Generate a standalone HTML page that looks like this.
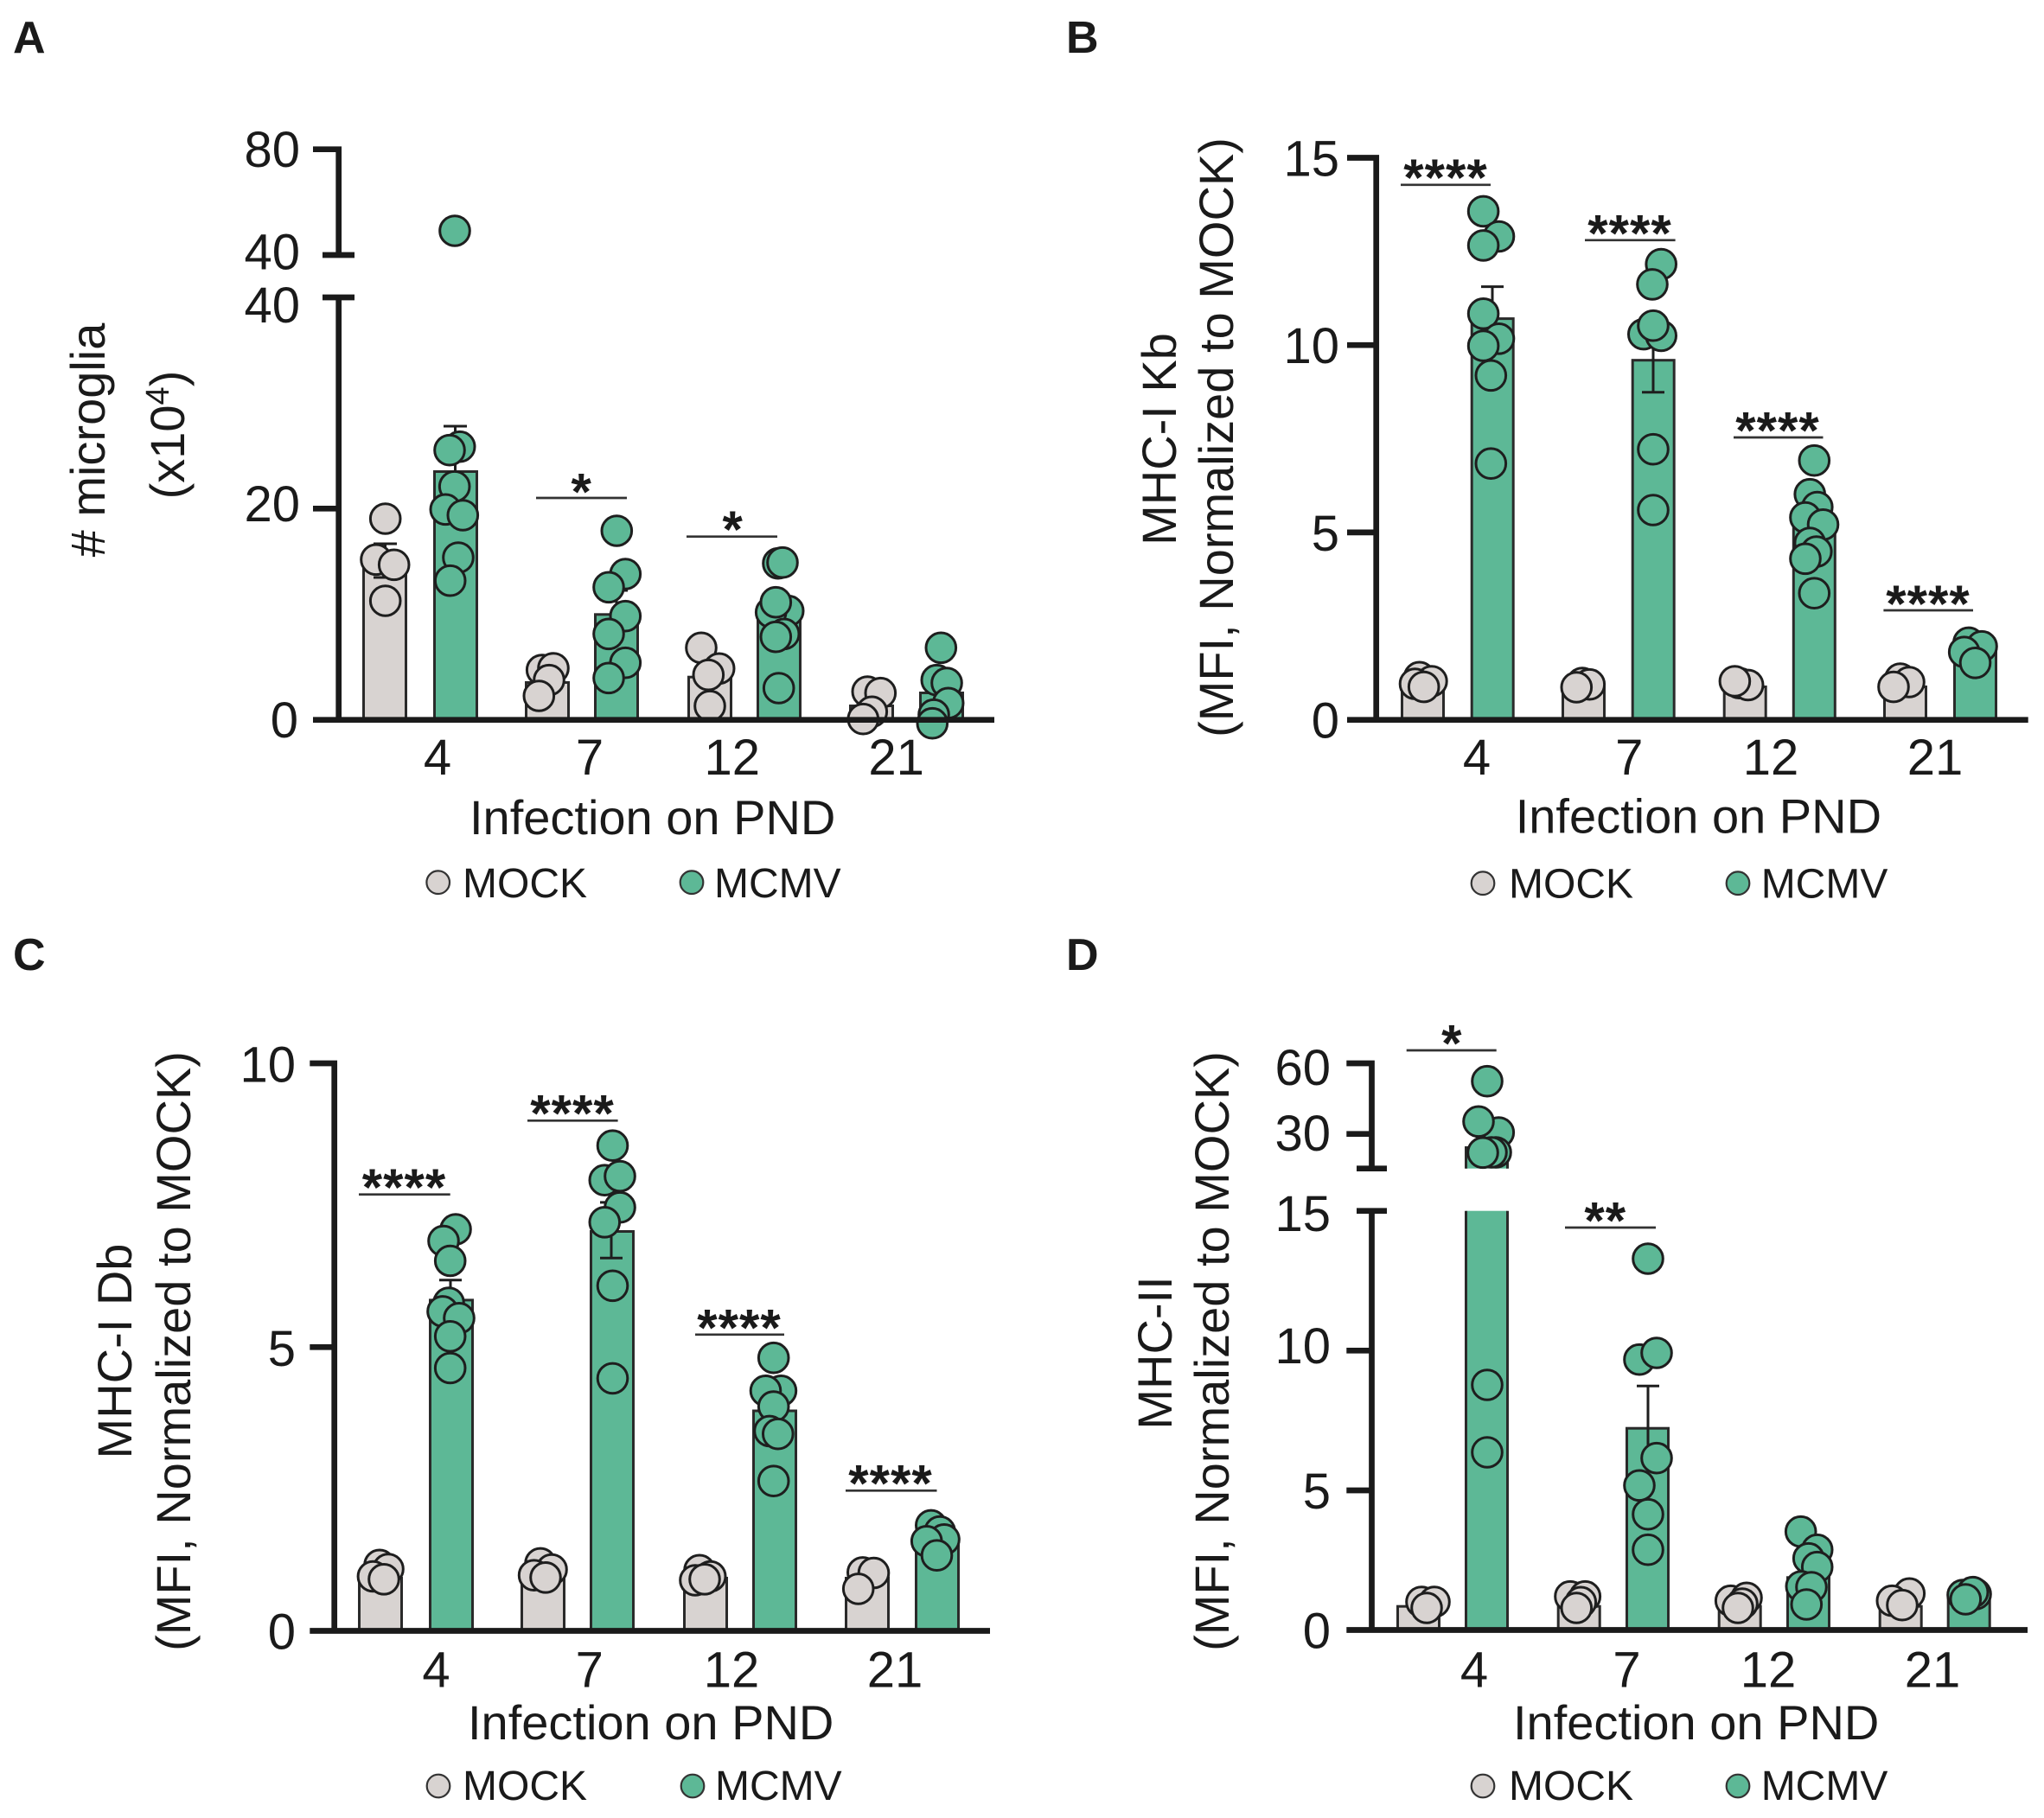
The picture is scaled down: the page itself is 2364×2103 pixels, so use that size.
<!DOCTYPE html>
<html><head><meta charset="utf-8"><style>
html,body{margin:0;padding:0;background:#fff;}
svg{display:block;}
text{font-family:"Liberation Sans",Arial,sans-serif;fill:#1a1a1a;}
.mk{fill:#d8d3d1;stroke:#1e1e1e;stroke-width:3;}
.mc{fill:#5db896;stroke:#1e1e1e;stroke-width:3;}
.bk{fill:#d8d3d1;stroke:#2a2a2a;stroke-width:3;}
.bc{fill:#5db896;stroke:#2a2a2a;stroke-width:3;}
.ax{stroke:#1a1a1a;stroke-width:6.7;fill:none;stroke-linejoin:miter;}
.sg{stroke:#333;stroke-width:2.7;}
.eb{stroke:#1e1e1e;stroke-width:3;fill:none;}
.tk{font-size:58px;text-anchor:end;}
.xl{font-size:58px;text-anchor:middle;}
.tt{font-size:56px;}
.lg{font-size:48px;}
.st{font-size:60px;font-weight:bold;text-anchor:middle;letter-spacing:1px;}
.pl{font-size:52px;font-weight:bold;}
.lk{fill:#d8d3d1;stroke:#333;stroke-width:2.2;}
.lc{fill:#5db896;stroke:#333;stroke-width:2.2;}
</style></head><body>
<svg width="2364" height="2103" viewBox="0 0 2364 2103" xmlns="http://www.w3.org/2000/svg">
<rect width="2364" height="2103" fill="#fff"/>

<text class="pl" x="15" y="61">A</text>
<text class="pl" x="1233" y="61">B</text>
<text class="pl" x="15" y="1122">C</text>
<text class="pl" x="1233" y="1122">D</text>

<!-- ================= PANEL A ================= -->
<g>
<rect class="bk" x="420.5" y="656.5" width="49" height="176.2"/>
<rect class="bc" x="502.5" y="545.5" width="49" height="287.2"/>
<rect class="bk" x="608.5" y="789.5" width="49" height="43.2"/>
<rect class="bc" x="688.5" y="710.8" width="49" height="121.9"/>
<rect class="bk" x="796.5" y="783.2" width="49" height="49.5"/>
<rect class="bc" x="876.5" y="708.2" width="49" height="124.5"/>
<rect class="bk" x="983.5" y="816.5" width="49" height="16.2"/>
<rect class="bc" x="1064.5" y="801.5" width="49" height="31.2"/>
<path class="eb" d="M445.5 629V668M432 629H459M432 668H459"/>
<path class="eb" d="M526.5 493V595M513 493H540"/>
<path class="eb" d="M713 683V735M700 683H726"/>
<path class="eb" d="M900.5 690V723M887 690H914"/>
<g>
<circle class="mk" cx="445.7" cy="600" r="17.3"/><circle class="mk" cx="435" cy="647.3" r="17.3"/><circle class="mk" cx="455.7" cy="653.3" r="17.3"/><circle class="mk" cx="445.7" cy="695" r="17.3"/>
<circle class="mc" cx="526" cy="267" r="17.3"/><circle class="mc" cx="531.7" cy="516.7" r="17.3"/><circle class="mc" cx="520" cy="520.7" r="17.3"/><circle class="mc" cx="525.7" cy="562.7" r="17.3"/><circle class="mc" cx="515.3" cy="589.3" r="17.3"/><circle class="mc" cx="535.3" cy="596" r="17.3"/><circle class="mc" cx="530" cy="645" r="17.3"/><circle class="mc" cx="520.7" cy="671.7" r="17.3"/>
<circle class="mk" cx="626.7" cy="775" r="17.3"/><circle class="mk" cx="640" cy="773" r="17.3"/><circle class="mk" cx="635" cy="786.7" r="17.3"/><circle class="mk" cx="623.3" cy="805" r="17.3"/>
<circle class="mc" cx="713.3" cy="614" r="17.3"/><circle class="mc" cx="723.3" cy="664" r="17.3"/><circle class="mc" cx="704" cy="679.3" r="17.3"/><circle class="mc" cx="723.3" cy="712.7" r="17.3"/><circle class="mc" cx="704" cy="733.3" r="17.3"/><circle class="mc" cx="723.3" cy="766.7" r="17.3"/><circle class="mc" cx="704" cy="784.3" r="17.3"/>
<circle class="mk" cx="811" cy="749.3" r="17.3"/><circle class="mk" cx="831.7" cy="773.3" r="17.3"/><circle class="mk" cx="819.3" cy="780.7" r="17.3"/><circle class="mk" cx="821" cy="816.7" r="17.3"/>
<circle class="mc" cx="900" cy="651.7" r="17.3"/><circle class="mc" cx="905" cy="650.7" r="17.3"/><circle class="mc" cx="911.7" cy="706.7" r="17.3"/><circle class="mc" cx="891.7" cy="708.3" r="17.3"/><circle class="mc" cx="897.3" cy="696.7" r="17.3"/><circle class="mc" cx="906.7" cy="733.3" r="17.3"/><circle class="mc" cx="897.3" cy="736.7" r="17.3"/><circle class="mc" cx="900.7" cy="796" r="17.3"/>
<circle class="mk" cx="1003.3" cy="800" r="17.3"/><circle class="mk" cx="1018.3" cy="801.7" r="17.3"/><circle class="mk" cx="1008.3" cy="823.3" r="17.3"/><circle class="mk" cx="998.3" cy="831.7" r="17.3"/>
<circle class="mc" cx="1088.3" cy="749.3" r="17.3"/><circle class="mc" cx="1083.3" cy="786.7" r="17.3"/><circle class="mc" cx="1095" cy="790" r="17.3"/><circle class="mc" cx="1096.7" cy="813.3" r="17.3"/><circle class="mc" cx="1080" cy="826.7" r="17.3"/><circle class="mc" cx="1078.3" cy="836.7" r="17.3"/>
</g>
<path class="ax" d="M362 172.7H391.7V295M373 295H410M373 344H410M391.7 344V832.7M362 588.3H391.7M362 832.7H1150"/>
<text class="tk" x="347" y="193">80</text>
<text class="tk" x="347" y="311.7">40</text>
<text class="tk" x="347" y="373">40</text>
<text class="tk" x="347" y="603">20</text>
<text class="tk" x="345" y="853">0</text>
<line class="sg" x1="620" y1="576" x2="725" y2="576"/>
<text class="st" x="672.7" y="589.5">*</text>
<line class="sg" x1="794" y1="620.7" x2="899" y2="620.7"/>
<text class="st" x="847.7" y="633">*</text>
<text class="xl" x="506" y="896">4</text>
<text class="xl" x="682" y="896">7</text>
<text class="xl" x="846.7" y="896">12</text>
<text class="xl" x="1036.6" y="896">21</text>
<text class="tt" x="543" y="965">Infection on PND</text>
<text class="tt" text-anchor="middle" transform="translate(121,509) rotate(-90)"># microglia</text>
<text class="tt" text-anchor="middle" transform="translate(213,503) rotate(-90)">(x10<tspan font-size="38" dy="-18">4</tspan><tspan dy="18">)</tspan></text>
<circle class="lk" cx="506.7" cy="1020.7" r="13.3"/>
<text class="lg" x="535" y="1038">MOCK</text>
<circle class="lc" cx="800" cy="1020.7" r="13.3"/>
<text class="lg" x="826" y="1038">MCMV</text>
</g>

<!-- ================= PANEL B ================= -->
<g>
<rect class="bk" x="1621.5" y="794.5" width="48" height="38.2"/>
<rect class="bc" x="1702.2" y="368.6" width="48" height="464.1"/>
<rect class="bk" x="1807.5" y="794.5" width="48" height="38.2"/>
<rect class="bc" x="1888.2" y="416.7" width="48" height="416"/>
<rect class="bk" x="1994.2" y="794.5" width="48" height="38.2"/>
<rect class="bc" x="2074.3" y="608.8" width="48" height="223.9"/>
<rect class="bk" x="2179.5" y="794.5" width="48" height="38.2"/>
<rect class="bc" x="2260.5" y="753.5" width="48" height="79.2"/>
<path class="eb" d="M1726 331.6V402.7M1713 331.6H1739"/>
<path class="eb" d="M1912 376.7V453.8M1899 376.7H1925M1899 453.8H1925"/>
<path class="eb" d="M2098 594V620M2085 594H2111"/>
<g>
<circle class="mk" cx="1641.6" cy="783.3" r="17.3"/><circle class="mk" cx="1655.9" cy="788" r="17.3"/><circle class="mk" cx="1636.5" cy="791.1" r="17.3"/><circle class="mk" cx="1646.7" cy="794.6" r="17.3"/>
<circle class="mc" cx="1715.6" cy="244.4" r="17.3"/><circle class="mc" cx="1733.5" cy="273.5" r="17.3"/><circle class="mc" cx="1715.6" cy="283.9" r="17.3"/><circle class="mc" cx="1715.6" cy="362.8" r="17.3"/><circle class="mc" cx="1733.5" cy="391.8" r="17.3"/><circle class="mc" cx="1715.6" cy="400.1" r="17.3"/><circle class="mc" cx="1724.3" cy="434.3" r="17.3"/><circle class="mc" cx="1724.3" cy="536.2" r="17.3"/>
<circle class="mk" cx="1830" cy="790" r="17.3"/><circle class="mk" cx="1838.3" cy="791.7" r="17.3"/><circle class="mk" cx="1823.3" cy="795" r="17.3"/>
<circle class="mc" cx="1921.2" cy="305.6" r="17.3"/><circle class="mc" cx="1911" cy="328.9" r="17.3"/><circle class="mc" cx="1900.8" cy="386.6" r="17.3"/><circle class="mc" cx="1921.2" cy="388.4" r="17.3"/><circle class="mc" cx="1912" cy="376.7" r="17.3"/><circle class="mc" cx="1912" cy="519.7" r="17.3"/><circle class="mc" cx="1912" cy="590" r="17.3"/>
<circle class="mk" cx="2011.5" cy="790.2" r="17.3"/><circle class="mk" cx="2021.7" cy="792.4" r="17.3"/><circle class="mk" cx="2006.4" cy="788" r="17.3"/>
<circle class="mc" cx="2098.3" cy="532.7" r="17.3"/><circle class="mc" cx="2093.2" cy="571.7" r="17.3"/><circle class="mc" cx="2101.8" cy="586.5" r="17.3"/><circle class="mc" cx="2088" cy="598.6" r="17.3"/><circle class="mc" cx="2108.5" cy="606.8" r="17.3"/><circle class="mc" cx="2093.2" cy="628.1" r="17.3"/><circle class="mc" cx="2100.8" cy="638.1" r="17.3"/><circle class="mc" cx="2088" cy="646.3" r="17.3"/><circle class="mc" cx="2098.3" cy="686.2" r="17.3"/>
<circle class="mk" cx="2197.8" cy="785" r="17.3"/><circle class="mk" cx="2208" cy="789" r="17.3"/><circle class="mk" cx="2190" cy="794.6" r="17.3"/>
<circle class="mc" cx="2276.8" cy="743.4" r="17.3"/><circle class="mc" cx="2292" cy="747.7" r="17.3"/><circle class="mc" cx="2271.7" cy="754.2" r="17.3"/><circle class="mc" cx="2284.5" cy="766.8" r="17.3"/>
</g>
<path class="ax" d="M1558 182.5H1591.7V832.7M1558 399.2H1591.7M1558 615.9H1591.7M1558 832.7H2345.7"/>
<text class="tk" x="1549" y="203.5">15</text>
<text class="tk" x="1549" y="420">10</text>
<text class="tk" x="1549" y="637">5</text>
<text class="tk" x="1549" y="853.5">0</text>
<line class="sg" x1="1620" y1="213.8" x2="1724" y2="213.8"/>
<text class="st" x="1672" y="226">****</text>
<line class="sg" x1="1833" y1="277.8" x2="1937.6" y2="277.8"/>
<text class="st" x="1885" y="290.5">****</text>
<line class="sg" x1="2005" y1="506" x2="2108.5" y2="506"/>
<text class="st" x="2056" y="518.5">****</text>
<line class="sg" x1="2178.4" y1="706" x2="2282" y2="706"/>
<text class="st" x="2230" y="719">****</text>
<text class="xl" x="1708" y="896">4</text>
<text class="xl" x="1884.3" y="896">7</text>
<text class="xl" x="2048" y="896">12</text>
<text class="xl" x="2238" y="896">21</text>
<text class="tt" x="1752.7" y="963.5">Infection on PND</text>
<text class="tt" text-anchor="middle" transform="translate(1360,508) rotate(-90)">MHC-I Kb</text>
<text class="tt" text-anchor="middle" transform="translate(1426,506) rotate(-90)">(MFI, Normalized to MOCK)</text>
<circle class="lk" cx="1715" cy="1021.7" r="13.3"/>
<text class="lg" x="1745" y="1038.3">MOCK</text>
<circle class="lc" cx="2010" cy="1021.7" r="13.3"/>
<text class="lg" x="2036.7" y="1038.3">MCMV</text>
</g>

<!-- ================= PANEL C ================= -->
<g>
<rect class="bk" x="415.5" y="1825.5" width="49" height="61"/>
<rect class="bc" x="497.5" y="1503.9" width="49" height="382.6"/>
<rect class="bk" x="603.5" y="1825.5" width="49" height="61"/>
<rect class="bc" x="683.5" y="1424.5" width="49" height="462"/>
<rect class="bk" x="791.5" y="1825.5" width="49" height="61"/>
<rect class="bc" x="871.5" y="1632" width="49" height="254.5"/>
<rect class="bk" x="978.5" y="1825.5" width="49" height="61"/>
<rect class="bc" x="1059.5" y="1784.3" width="49" height="102.2"/>
<path class="eb" d="M521 1480.8V1524M508 1480.8H534"/>
<path class="eb" d="M707 1390.9V1455.2M694 1455.2H720M694 1390.9H720"/>
<path class="eb" d="M895 1615V1646M882 1615H908"/>
<g>
<circle class="mk" cx="439" cy="1810.3" r="17.3"/><circle class="mk" cx="449" cy="1815" r="17.3"/><circle class="mk" cx="431.4" cy="1823.5" r="17.3"/><circle class="mk" cx="444" cy="1826.8" r="17.3"/>
<circle class="mc" cx="527" cy="1422" r="17.3"/><circle class="mc" cx="513" cy="1435.5" r="17.3"/><circle class="mc" cx="520.7" cy="1458.5" r="17.3"/><circle class="mc" cx="519" cy="1507" r="17.3"/><circle class="mc" cx="512" cy="1516.9" r="17.3"/><circle class="mc" cx="531" cy="1524.8" r="17.3"/><circle class="mc" cx="520.7" cy="1545.8" r="17.3"/><circle class="mc" cx="520.7" cy="1582.5" r="17.3"/>
<circle class="mk" cx="625" cy="1808.4" r="17.3"/><circle class="mk" cx="638" cy="1815.6" r="17.3"/><circle class="mk" cx="617.6" cy="1822.2" r="17.3"/><circle class="mk" cx="631" cy="1824.8" r="17.3"/>
<circle class="mc" cx="708.5" cy="1325.2" r="17.3"/><circle class="mc" cx="699.3" cy="1365.2" r="17.3"/><circle class="mc" cx="717" cy="1360.6" r="17.3"/><circle class="mc" cx="717" cy="1396.7" r="17.3"/><circle class="mc" cx="699.3" cy="1413.8" r="17.3"/><circle class="mc" cx="708.5" cy="1487.3" r="17.3"/><circle class="mc" cx="708.5" cy="1594.4" r="17.3"/>
<circle class="mk" cx="809" cy="1816.3" r="17.3"/><circle class="mk" cx="821.7" cy="1823.5" r="17.3"/><circle class="mk" cx="804" cy="1828" r="17.3"/><circle class="mk" cx="815" cy="1826.8" r="17.3"/>
<circle class="mc" cx="894.7" cy="1570.7" r="17.3"/><circle class="mc" cx="903.4" cy="1608.8" r="17.3"/><circle class="mc" cx="885.5" cy="1608.8" r="17.3"/><circle class="mc" cx="894.7" cy="1627" r="17.3"/><circle class="mc" cx="890" cy="1655.4" r="17.3"/><circle class="mc" cx="899.8" cy="1658.7" r="17.3"/><circle class="mc" cx="894.7" cy="1713.2" r="17.3"/>
<circle class="mk" cx="997.8" cy="1818.9" r="17.3"/><circle class="mk" cx="1010.5" cy="1819.5" r="17.3"/><circle class="mk" cx="992.7" cy="1837.9" r="17.3"/>
<circle class="mc" cx="1076.8" cy="1764.4" r="17.3"/><circle class="mc" cx="1087" cy="1771.6" r="17.3"/><circle class="mc" cx="1092" cy="1780.8" r="17.3"/><circle class="mc" cx="1071.7" cy="1782.8" r="17.3"/><circle class="mc" cx="1083.5" cy="1799.2" r="17.3"/>
</g>
<path class="ax" d="M358.3 1230H386.7V1886.5M358.3 1558.3H386.7M358.3 1886.5H1145"/>
<text class="tk" x="342" y="1251.7">10</text>
<text class="tk" x="342" y="1580">5</text>
<text class="tk" x="342" y="1907.5">0</text>
<line class="sg" x1="415" y1="1381.7" x2="520.7" y2="1381.7"/>
<text class="st" x="467.5" y="1394">****</text>
<line class="sg" x1="610" y1="1296.3" x2="714.6" y2="1296.3"/>
<text class="st" x="662" y="1308.5">****</text>
<line class="sg" x1="804" y1="1543.8" x2="907" y2="1543.8"/>
<text class="st" x="855" y="1556.5">****</text>
<line class="sg" x1="978" y1="1724.3" x2="1083.5" y2="1724.3"/>
<text class="st" x="1030" y="1736.5">****</text>
<text class="xl" x="504.5" y="1951.7">4</text>
<text class="xl" x="681.7" y="1951.7">7</text>
<text class="xl" x="846" y="1951.7">12</text>
<text class="xl" x="1035" y="1951.7">21</text>
<text class="tt" x="541" y="2012">Infection on PND</text>
<text class="tt" text-anchor="middle" transform="translate(152,1563) rotate(-90)">MHC-I Db</text>
<text class="tt" text-anchor="middle" transform="translate(220,1563) rotate(-90)">(MFI, Normalized to MOCK)</text>
<circle class="lk" cx="507" cy="2066" r="13.3"/>
<text class="lg" x="535" y="2082">MOCK</text>
<circle class="lc" cx="801" cy="2066" r="13.3"/>
<text class="lg" x="827" y="2082">MCMV</text>
</g>

<!-- ================= PANEL D ================= -->
<g>
<rect class="bk" x="1616.5" y="1858.2" width="48" height="27.3"/>
<rect x="1695.5" y="1327.5" width="48" height="24.2" fill="#5db896"/>
<path d="M1695.5 1351.7V1327.5H1743.5V1351.7" fill="none" stroke="#2a2a2a" stroke-width="3"/>
<rect x="1695.5" y="1400.7" width="48" height="484.8" fill="#5db896"/>
<path d="M1695.5 1400.7V1885.5M1743.5 1400.7V1885.5" fill="none" stroke="#2a2a2a" stroke-width="3"/>
<rect class="bk" x="1802.2" y="1858.2" width="48" height="27.3"/>
<rect class="bc" x="1881.5" y="1652.2" width="48" height="233.3"/>
<rect class="bk" x="1988.2" y="1858.2" width="48" height="27.3"/>
<rect class="bc" x="2067.5" y="1824.8" width="48" height="60.7"/>
<rect class="bk" x="2174.2" y="1858.2" width="48" height="27.3"/>
<rect class="bc" x="2253.2" y="1846.5" width="48" height="39"/>
<path class="eb" d="M1906 1603.3V1700M1893 1603.3H1919"/>
<g>
<circle class="mk" cx="1644" cy="1853" r="17.3"/><circle class="mk" cx="1659" cy="1853" r="17.3"/><circle class="mk" cx="1650" cy="1860" r="17.3"/>
<circle class="mc" cx="1720" cy="1250.7" r="17.3"/><circle class="mc" cx="1733.3" cy="1310" r="17.3"/><circle class="mc" cx="1710" cy="1297.3" r="17.3"/><circle class="mc" cx="1730" cy="1333" r="17.3"/><circle class="mc" cx="1725" cy="1333" r="17.3"/><circle class="mc" cx="1715" cy="1333.3" r="17.3"/>
<circle class="mc" cx="1720" cy="1602" r="17.3"/><circle class="mc" cx="1720" cy="1680" r="17.3"/>
<circle class="mk" cx="1816" cy="1846.7" r="17.3"/><circle class="mk" cx="1833.3" cy="1846.7" r="17.3"/><circle class="mk" cx="1828.3" cy="1853.3" r="17.3"/><circle class="mk" cx="1823.3" cy="1860" r="17.3"/>
<circle class="mc" cx="1906" cy="1456" r="17.3"/><circle class="mc" cx="1896" cy="1572.7" r="17.3"/><circle class="mc" cx="1916" cy="1565" r="17.3"/><circle class="mc" cx="1916" cy="1686.7" r="17.3"/><circle class="mc" cx="1896" cy="1718.3" r="17.3"/><circle class="mc" cx="1906" cy="1751.7" r="17.3"/><circle class="mc" cx="1906" cy="1792.7" r="17.3"/>
<circle class="mk" cx="2001.7" cy="1851.7" r="17.3"/><circle class="mk" cx="2020" cy="1848.3" r="17.3"/><circle class="mk" cx="2015" cy="1855" r="17.3"/><circle class="mk" cx="2010" cy="1860" r="17.3"/>
<circle class="mc" cx="2082.7" cy="1771.7" r="17.3"/><circle class="mc" cx="2101.7" cy="1792.7" r="17.3"/><circle class="mc" cx="2091.7" cy="1802.7" r="17.3"/><circle class="mc" cx="2101.7" cy="1812.7" r="17.3"/><circle class="mc" cx="2083.3" cy="1835" r="17.3"/><circle class="mc" cx="2095" cy="1836" r="17.3"/><circle class="mc" cx="2089.3" cy="1856" r="17.3"/>
<circle class="mk" cx="2208.3" cy="1843.3" r="17.3"/><circle class="mk" cx="2188.3" cy="1851.7" r="17.3"/><circle class="mk" cx="2200" cy="1856.7" r="17.3"/>
<circle class="mc" cx="2285" cy="1844" r="17.3"/><circle class="mc" cx="2270" cy="1845" r="17.3"/><circle class="mc" cx="2281.7" cy="1841.7" r="17.3"/><circle class="mc" cx="2273.3" cy="1850" r="17.3"/>
</g>
<path class="ax" d="M1557.3 1230H1586.5V1351.7M1557.3 1311.7H1586.5M1569 1351.7H1604M1569 1400.7H1604M1586.5 1400.7V1885.5M1557.3 1562.3H1586.5M1557.3 1724H1586.5M1557.3 1885.5H2345"/>
<text class="tk" x="1539" y="1255">60</text>
<text class="tk" x="1539" y="1331">30</text>
<text class="tk" x="1539" y="1424">15</text>
<text class="tk" x="1539" y="1577">10</text>
<text class="tk" x="1539" y="1745">5</text>
<text class="tk" x="1539" y="1906.5">0</text>
<line class="sg" x1="1626.7" y1="1215" x2="1730.7" y2="1215"/>
<text class="st" x="1679.3" y="1227.5">*</text>
<line class="sg" x1="1810" y1="1420" x2="1915" y2="1420"/>
<text class="st" x="1856.7" y="1432.5">**</text>
<text class="xl" x="1705" y="1951.7">4</text>
<text class="xl" x="1881.5" y="1951.7">7</text>
<text class="xl" x="2045" y="1951.7">12</text>
<text class="xl" x="2235" y="1951.7">21</text>
<text class="tt" x="1750" y="2012">Infection on PND</text>
<text class="tt" text-anchor="middle" transform="translate(1355,1565) rotate(-90)">MHC-II</text>
<text class="tt" text-anchor="middle" transform="translate(1421,1563) rotate(-90)">(MFI, Normalized to MOCK)</text>
<circle class="lk" cx="1715" cy="2066" r="13.3"/>
<text class="lg" x="1745" y="2082">MOCK</text>
<circle class="lc" cx="2010" cy="2066" r="13.3"/>
<text class="lg" x="2036.7" y="2082">MCMV</text>
</g>
</svg>
</body></html>
